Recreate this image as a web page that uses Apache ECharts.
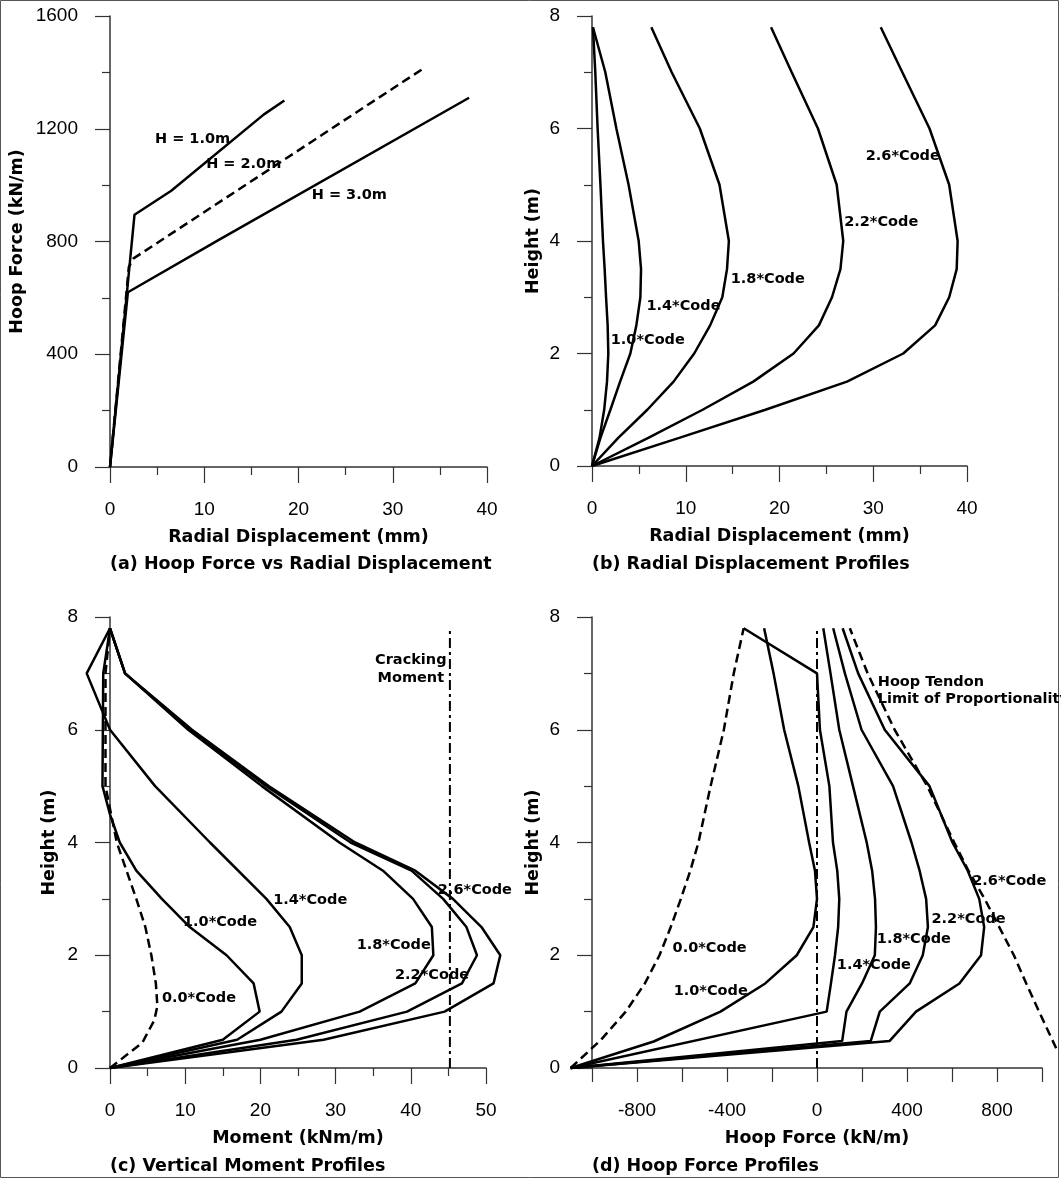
<!DOCTYPE html>
<html>
<head>
<meta charset="utf-8">
<script src="https://cdn.jsdelivr.net/npm/echarts@6/dist/echarts.min.js"></script>
<style>html,body{margin:0;padding:0;background:#fff}#main{width:1061px;height:1179px}</style>
</head>
<body>
<div id="main"></div>
<script>
// (a) hoop force vs radial displacement
var dispH1 = [0, 2.6, 6.5, 16.3, 18.5];
var forceH1 = [0, 895, 980, 1250, 1300];
var dispH2 = [0, 2.0, 2.5, 33.3];
var forceH2 = [0, 710, 740, 1415];
var dispH3 = [0, 1.9, 11.5, 38.1];
var forceH3 = [0, 620, 805, 1310];

// (b) radial displacement profiles (mm) at heights hB (m)
var hB = [0, 0.5, 1, 1.5, 2, 2.5, 3, 3.5, 4, 5, 6, 7, 7.8];
var b10 = [0, 0.8, 1.3, 1.6, 1.74, 1.67, 1.5, 1.35, 1.17, 0.9, 0.6, 0.35, 0.1];
var b14 = [0, 0.9, 1.96, 3.0, 4.09, 4.73, 5.16, 5.23, 4.98, 3.9, 2.6, 1.42, 0.1];
var b18 = [0, 2.8, 5.9, 8.7, 10.9, 12.6, 13.9, 14.4, 14.6, 13.6, 11.5, 8.5, 6.33];
var b22 = [0, 6.0, 11.8, 17.2, 21.5, 24.2, 25.6, 26.5, 26.8, 26.1, 24.1, 21.3, 19.1];
var b26 = [0, 9.3, 18.5, 27.2, 33.2, 36.6, 38.1, 38.9, 39.0, 38.1, 36.0, 33.1, 30.8];

// (c) vertical moment profiles (kNm/m)
var hC00 = [0, 0.45, 0.85, 1.1, 1.5, 2, 2.5, 3, 3.5, 4, 5, 7, 7.8];
var c00 = [0, 4.3, 5.9, 6.3, 6.1, 5.5, 4.7, 3.5, 2.2, 0.9, -0.6, -0.6, 0];
var hC10 = [0, 0.5, 1, 1.5, 2, 2.5, 3, 3.5, 4, 4.5, 5, 7, 7.8];
var c10 = [0, 15.0, 19.9, 19.1, 15.5, 10.6, 6.9, 3.5, 1.3, 0, -1.0, -0.9, 0];
var hC14 = [0, 0.5, 1, 1.5, 2, 2.5, 3, 4, 5, 6, 7, 7.8];
var c14 = [0, 16.9, 22.8, 25.5, 25.5, 23.9, 20.8, 13.3, 6.0, 0, -3.1, 0];
var hC = [0, 0.5, 1, 1.5, 2, 2.5, 3, 3.5, 4, 5, 6, 7, 7.8];
var c18 = [0, 20.0, 33.2, 40.6, 43.0, 42.8, 40.3, 36.3, 30.5, 20.2, 10.4, 2.0, 0];
var c22 = [0, 24.8, 39.5, 46.8, 48.8, 47.4, 44.3, 40.1, 32.0, 20.8, 10.6, 2.0, 0];
var c26 = [0, 28.4, 44.5, 51.0, 51.9, 49.4, 45.6, 40.6, 32.6, 21.1, 10.9, 2.0, 0];
var crackMoment = 45.2;

// (d) hoop force profiles (kN/m)
var hD00 = [0, 0.5, 1, 1.5, 2, 2.5, 3, 3.5, 4, 5, 6, 7, 7.8];
var d00 = [-1095, -960, -850, -765, -700, -650, -605, -563, -527, -473, -414, -370, -326];
var hD10 = [0, 0.47, 1, 1.5, 2, 2.5, 3, 3.5, 4, 5, 6, 7, 7.8];
var d10 = [-1095, -726, -429, -230, -90, -16, 0, -9, -35, -83, -146, -193, -235];
var hD14 = [0, 1, 1.5, 2, 2.5, 3, 3.5, 4, 5, 6, 7, 7.8];
var d14 = [-1095, 43, 62, 80, 94, 99, 90, 71, 55, 13, 0, -326];
var hD = [0, 0.48, 1, 1.5, 2, 2.5, 3, 3.5, 4, 5, 6, 7, 7.8];
var d18 = [-1095, 112, 131, 200, 257, 262, 258, 245, 221, 160, 99, 60, 28];
var d22 = [-1095, 239, 279, 412, 470, 493, 485, 456, 420, 338, 198, 124, 72];
var d26 = [-1095, 323, 440, 633, 729, 743, 721, 670, 602, 500, 301, 183, 114];
var hLimit = [0.35, 1, 1.5, 2, 2.5, 3, 3.5, 4, 5, 6, 7, 7.8];
var dLimit = [1063, 987, 930, 875, 810, 745, 673, 610, 490, 345, 225, 146];

function pairs(xs, ys) {
    return xs.map(function (x, i) { return [x, ys[i]]; });
}

var nameText = {fontFamily: 'DejaVu Sans', fontWeight: 'bold', fontSize: 17.5, color: '#000'};
var axisColor = '#333';

function axis(grid, min, max, interval, name, gap, isY, extra) {
    var a = {
        gridIndex: grid, type: 'value', min: min, max: max, interval: interval,
        name: name, nameLocation: 'middle', nameGap: gap, nameTextStyle: nameText,
        axisLine: {onZero: false, lineStyle: {color: axisColor, width: 1.5}},
        axisTick: {length: isY ? 15 : 16, lineStyle: {color: axisColor, width: 1.2}},
        minorTick: {show: true, splitNumber: 2, length: 8, lineStyle: {color: axisColor, width: 1.2}},
        axisLabel: {margin: isY ? 32 : 33, fontFamily: 'Liberation Sans', fontSize: 19, color: '#000',
            formatter: function (v) { return String(v); }},
        splitLine: {show: false}, minorSplitLine: {show: false}
    };
    if (extra) Object.assign(a, extra);
    return a;
}

// hidden axes with a wider range, laid on the same pixel scale, so lines may run past the drawn axes
function hiddenAxis(grid, min, max) {
    return {gridIndex: grid, type: 'value', min: min, max: max, show: false,
        axisLine: {onZero: false}, splitLine: {show: false}};
}

function line(xi, data, type, width) {
    return {
        type: 'line', xAxisIndex: xi, yAxisIndex: xi, data: data, symbol: 'none',
        clip: false, silent: true,
        lineStyle: {color: '#000', width: width || 2.5, type: type || 'solid'}
    };
}

function labels(xi, items) {
    return {
        type: 'scatter', xAxisIndex: xi, yAxisIndex: xi, symbolSize: 0, silent: true,
        itemStyle: {opacity: 1},
        data: items.map(function (t) { return {name: t[0], value: [t[1], t[2]]}; }),
        label: {show: true, position: 'right', distance: 0, formatter: '{b}', opacity: 1,
            fontFamily: 'DejaVu Sans', fontWeight: 'bold', fontSize: 14.5, color: '#000', lineHeight: 17}
    };
}

var dashed = [9, 5];
var dashDot = [10, 4, 3, 4];

var myChart = echarts.init(document.getElementById('main'));
var option = {
    animation: false,
    backgroundColor: '#fff',
    grid: [
        {left: 110, top: 16, width: 377, height: 451},
        {left: 592, top: 16, width: 375, height: 450},
        {left: 110, top: 617, width: 376, height: 451},
        {left: 592, top: 617, width: 450, height: 451},
        {left: 72.4, top: 617, width: 451.2, height: 451},
        {left: 558.25, top: 617, width: 501.75, height: 451, outerBoundsMode: 'none'}
    ],
    xAxis: [
        axis(0, 0, 40, 10, 'Radial Displacement (mm)', 61, false),
        axis(1, 0, 40, 10, 'Radial Displacement (mm)', 61, false),
        axis(2, 0, 50, 10, 'Moment (kNm/m)', 61, false),
        axis(3, -1000, 1000, 200, 'Hoop Force (kN/m)', 61, false, {
            minorTick: {show: false},
            axisTick: {length: 14, lineStyle: {color: axisColor, width: 1.2}},
            axisLabel: {margin: 33, fontFamily: 'Liberation Sans', fontSize: 19, color: '#000',
                formatter: function (v) { return (v % 400 === 0) ? String(v) : ''; }}
        }),
        hiddenAxis(4, -5, 55),
        hiddenAxis(5, -1150, 1080)
    ],
    yAxis: [
        axis(0, 0, 1600, 400, 'Hoop Force (kN/m)', 84, true),
        axis(1, 0, 8, 2, 'Height (m)', 50, true),
        axis(2, 0, 8, 2, 'Height (m)', 52, true),
        axis(3, 0, 8, 2, 'Height (m)', 50, true),
        hiddenAxis(4, 0, 8),
        hiddenAxis(5, 0, 8)
    ],
    series: [
        line(0, pairs(dispH1, forceH1)),
        line(0, pairs(dispH2, forceH2), dashed),
        line(0, pairs(dispH3, forceH3)),
        labels(0, [['H = 1.0m', 4.77, 1163], ['H = 2.0m', 10.2, 1075], ['H = 3.0m', 21.4, 965]]),

        line(1, pairs(b10, hB)),
        line(1, pairs(b14, hB)),
        line(1, pairs(b18, hB)),
        line(1, pairs(b22, hB)),
        line(1, pairs(b26, hB)),
        labels(1, [['1.0*Code', 2.0, 2.24], ['1.4*Code', 5.8, 2.84], ['1.8*Code', 14.8, 3.32],
            ['2.2*Code', 26.9, 4.34], ['2.6*Code', 29.2, 5.51]]),

        line(4, pairs(c00, hC00), dashed),
        line(4, pairs(c10, hC10)),
        line(4, pairs(c14, hC14)),
        line(4, pairs(c18, hC)),
        line(4, pairs(c22, hC)),
        line(4, pairs(c26, hC)),
        line(4, [[crackMoment, 0], [crackMoment, 7.8]], dashDot, 2),
        labels(2, [['1.4*Code', 21.7, 2.98], ['1.0*Code', 9.7, 2.59], ['1.8*Code', 32.8, 2.18],
            ['2.2*Code', 37.9, 1.65], ['2.6*Code', 43.6, 3.16], ['0.0*Code', 6.9, 1.24]]),
        {
            type: 'scatter', xAxisIndex: 2, yAxisIndex: 2, symbolSize: 0, silent: true,
            itemStyle: {opacity: 1},
            data: [{name: 'Cracking\nMoment', value: [40.0, 7.08]}],
            label: {show: true, position: 'inside', align: 'center', verticalAlign: 'middle', formatter: '{b}',
                fontFamily: 'DejaVu Sans', fontWeight: 'bold', fontSize: 14.5, color: '#000', lineHeight: 18}
        },

        line(5, pairs(d00, hD00), dashed),
        line(5, pairs(d10, hD10)),
        line(5, pairs(d14, hD14)),
        line(5, pairs(d18, hD)),
        line(5, pairs(d22, hD)),
        line(5, pairs(d26, hD)),
        line(5, pairs(dLimit, hLimit), dashed),
        line(5, [[0, 0], [0, 7.8]], dashDot, 2),
        labels(3, [['Hoop Tendon\nLimit of Proportionality', 270, 6.7], ['2.6*Code', 690, 3.32],
            ['2.2*Code', 509, 2.64], ['1.8*Code', 266, 2.29], ['1.4*Code', 88, 1.83],
            ['0.0*Code', -642, 2.13], ['1.0*Code', -637, 1.37]])
    ],
    graphic: [
        {type: 'rect', shape: {x: 0.5, y: 0.5, width: 1058, height: 1177}, style: {fill: 'none', stroke: '#555', lineWidth: 1}},
        {type: 'text', x: 110, y: 564, style: {text: '(a) Hoop Force vs Radial Displacement', font: 'bold 17.5px "DejaVu Sans"', fill: '#000', verticalAlign: 'middle'}},
        {type: 'text', x: 592, y: 564, style: {text: '(b) Radial Displacement Profiles', font: 'bold 17.5px "DejaVu Sans"', fill: '#000', verticalAlign: 'middle'}},
        {type: 'text', x: 110, y: 1166, style: {text: '(c) Vertical Moment Profiles', font: 'bold 17.5px "DejaVu Sans"', fill: '#000', verticalAlign: 'middle'}},
        {type: 'text', x: 592, y: 1166, style: {text: '(d) Hoop Force Profiles', font: 'bold 17.5px "DejaVu Sans"', fill: '#000', verticalAlign: 'middle'}}
    ]
};
myChart.setOption(option);
</script>
</body>
</html>
